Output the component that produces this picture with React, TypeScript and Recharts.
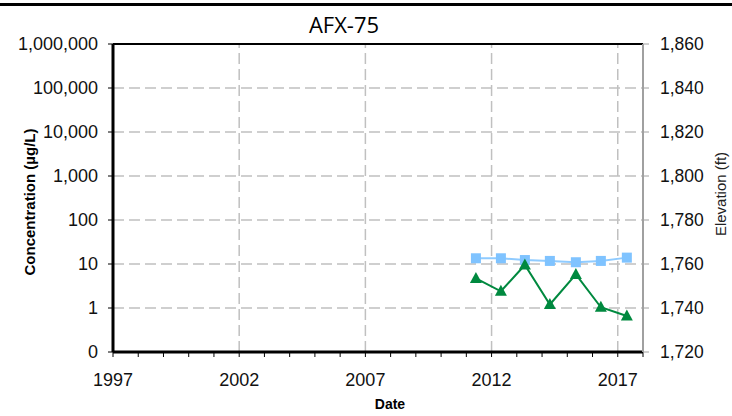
import React from 'react';
import {
  ComposedChart,
  Line,
  XAxis,
  YAxis,
  CartesianGrid,
  ReferenceLine
} from 'recharts';

// sample dates as decimal years
const sampleYears = [2011.38, 2012.37, 2013.32, 2014.31, 2015.34, 2016.33, 2017.36];
// concentration (ug/L), left log axis
const concentration = [4.7, 2.4, 9.5, 1.2, 5.8, 1.04, 0.66];
// groundwater elevation (ft), right axis
const elevation = [1762.6, 1762.6, 1761.8, 1761.4, 1760.8, 1761.4, 1762.9];

const yearTicks = [
  1997, 1998, 1999, 2000, 2001, 2002, 2003, 2004, 2005, 2006, 2007,
  2008, 2009, 2010, 2011, 2012, 2013, 2014, 2015, 2016, 2017, 2018
];
const majorYears = [1997, 2002, 2007, 2012, 2017];
const concTicks = [0.1, 1, 10, 100, 1000, 10000, 100000, 1000000];
const elevTicks = [1720, 1740, 1760, 1780, 1800, 1820, 1840, 1860];

const rows = sampleYears.map((t, i) => ({
  t,
  conc: concentration[i],
  elev: elevation[i]
}));

const GREEN = '#00893f';
const BLUE_LINE = '#8fcbff';
const BLUE_MARK = '#7fc3ff';
const GRID = '#c0c0c0';
const tickFont = { fontFamily: 'Liberation Sans, Arial, sans-serif', fill: '#111' };

const Triangle = (props: any) => {
  const { cx, cy, index } = props;
  if (cx == null || cy == null) return <g key={index} />;
  return (
    <path
      key={index}
      d={`M${cx},${cy - 6.5} L${cx + 6},${cy + 4.5} L${cx - 6},${cy + 4.5} Z`}
      fill={GREEN}
    />
  );
};

const Square = (props: any) => {
  const { cx, cy, index } = props;
  if (cx == null || cy == null) return <g key={index} />;
  return <rect key={index} x={cx - 5} y={cy - 5} width={10} height={10} fill={BLUE_MARK} />;
};

export default function App() {
  return (
    <div style={{ position: 'absolute', left: 0, top: 0, width: 732, height: 416, background: '#fff' }}>
      <ComposedChart
        width={732}
        height={416}
        data={rows}
        margin={{ top: 44, right: 0, bottom: 0, left: 0 }}
      >
        <CartesianGrid
          yAxisId="left"
          vertical={false}
          stroke={GRID}
          strokeWidth={1.5}
          strokeDasharray="11 5"
        />
        {majorYears.slice(1).map((y) => (
          <ReferenceLine
            key={y}
            x={y}
            yAxisId="left"
            stroke={GRID}
            strokeWidth={1.5}
            strokeDasharray="11 5"
          />
        ))}
        <ReferenceLine y={1000000} yAxisId="left" stroke="#000" strokeWidth={2} />
        <ReferenceLine x={2018} yAxisId="left" stroke="#000" strokeWidth={2} />
        <XAxis
          dataKey="t"
          type="number"
          domain={[1997, 2018]}
          ticks={yearTicks}
          interval={0}
          allowDataOverflow
          height={64}
          tickSize={5}
          tickMargin={16}
          tickFormatter={(v: number) => (majorYears.includes(v) ? String(v) : '')}
          tick={{ ...tickFont, fontSize: 18 }}
          axisLine={{ stroke: '#000', strokeWidth: 3 }}
          tickLine={{ stroke: '#000' }}
        />
        <YAxis
          yAxisId="left"
          scale="log"
          domain={[0.1, 1000000]}
          ticks={concTicks}
          interval={0}
          allowDataOverflow
          width={113}
          tickSize={5}
          tickMargin={10}
          tickFormatter={(v: number) => (v < 1 ? '0' : v.toLocaleString('en-US'))}
          tick={{ ...tickFont, fontSize: 18 }}
          axisLine={{ stroke: '#000', strokeWidth: 3 }}
          tickLine={{ stroke: '#000' }}
        />
        <YAxis
          yAxisId="right"
          orientation="right"
          domain={[1720, 1860]}
          ticks={elevTicks}
          interval={0}
          allowDataOverflow
          width={89}
          tickSize={6}
          tickMargin={11}
          tickFormatter={(v: number) => v.toLocaleString('en-US')}
          tick={{ ...tickFont, fontSize: 17.5, textAnchor: 'start' }}
          axisLine={{ stroke: '#a0a0a0', strokeWidth: 2 }}
          tickLine={{ stroke: '#a0a0a0' }}
        />
        <Line
          yAxisId="right"
          dataKey="elev"
          stroke={BLUE_LINE}
          strokeWidth={2}
          dot={Square}
          activeDot={false}
          isAnimationActive={false}
        />
        <Line
          yAxisId="left"
          dataKey="conc"
          stroke={GREEN}
          strokeWidth={2}
          dot={Triangle}
          activeDot={false}
          isAnimationActive={false}
        />
      </ComposedChart>
      <svg
        width={732}
        height={416}
        style={{ position: 'absolute', left: 0, top: 0, pointerEvents: 'none' }}
      >
        <rect x={0} y={3} width={732} height={3} fill="#000" />
        <text x={344} y={33} textAnchor="middle" fontFamily="Open Sans, sans-serif" fontSize={22} fill="#000">
          AFX-75
        </text>
        <text
          transform="translate(35,202) rotate(-90)"
          textAnchor="middle"
          fontFamily="Liberation Sans, Arial, sans-serif"
          fontWeight="bold"
          fontSize={15}
          fill="#000"
        >
          Concentration (µg/L)
        </text>
        <text
          transform="translate(726,194) rotate(-90)"
          textAnchor="middle"
          fontFamily="Liberation Sans, Arial, sans-serif"
          fontSize={15}
          fill="#222"
        >
          Elevation (ft)
        </text>
        <text
          x={390}
          y={409}
          textAnchor="middle"
          fontFamily="Liberation Sans, Arial, sans-serif"
          fontWeight="bold"
          fontSize={14}
          fill="#000"
        >
          Date
        </text>
      </svg>
    </div>
  );
}
